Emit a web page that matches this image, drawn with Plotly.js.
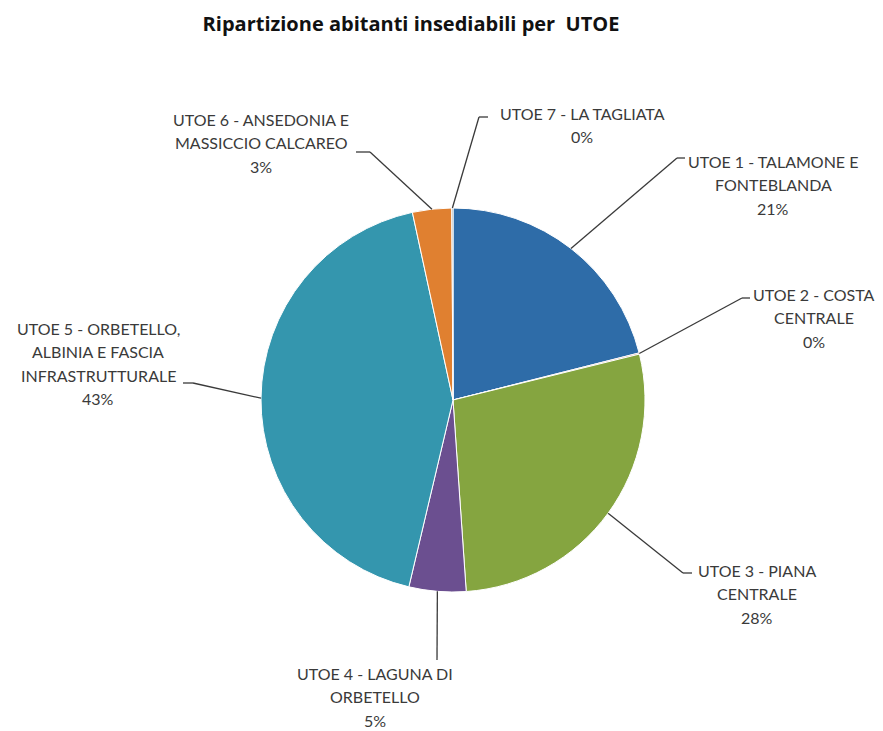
<!DOCTYPE html>
<html>
<head>
<meta charset="utf-8">
<script src="https://cdn.plot.ly/plotly-3.0.1.min.js"></script>
<style>html,body{margin:0;padding:0;background:#fff}#chart{width:883px;height:731px}</style>
</head>
<body>
<div id="chart"></div>
<script>
// ---- data ----
const categories = ["UTOE 1 - TALAMONE E FONTEBLANDA","UTOE 2 - COSTA CENTRALE","UTOE 3 - PIANA CENTRALE","UTOE 4 - LAGUNA DI ORBETELLO","UTOE 5 - ORBETELLO, ALBINIA E FASCIA INFRASTRUTTURALE","UTOE 6 - ANSEDONIA E MASSICCIO CALCAREO","UTOE 7 - LA TAGLIATA"];
const labelLines = [
  ["UTOE 1 - TALAMONE E","FONTEBLANDA"],
  ["UTOE 2 - COSTA","CENTRALE"],
  ["UTOE 3 - PIANA","CENTRALE"],
  ["UTOE 4 - LAGUNA DI","ORBETELLO"],
  ["UTOE 5 - ORBETELLO,","ALBINIA E FASCIA","INFRASTRUTTURALE"],
  ["UTOE 6 - ANSEDONIA E","MASSICCIO CALCAREO"],
  ["UTOE 7 - LA TAGLIATA"]
];
const values = [21.1, 0.1, 27.8, 4.8, 43.0, 3.3, 0.1];
const title = "Ripartizione abitanti insediabili per  UTOE";

// ---- styles / layout ----
const colors = ["#2E6CA8","#B8423E","#85A540","#6B4F90","#3496AE","#E08030","#8A8A8A"];
const W = 883, H = 731;
const cx = 453, cy = 400, r = 192;
// label block centre x, first line y (px)
const labelPos = [[773,161],[814,294],[757,570],[375,673],[98,328],[261,119],[582,113]];
// leader elbow and end points (px)
const elbows = [[677,158],[742,298],[683,573],[437,660],[193,383],[370,152],[479,117]];
const ends   = [[685,158],[750,298],[692,573],[437,660],[183,383],[356,152],[488,117]];
const lineGap = 23.6;
const textColor = "#3a3a3a";
const fontFam = "Lato, 'Open Sans', sans-serif";

const px = x => x / W;
const py = y => 1 - y / H;

const total = values.reduce((a,b)=>a+b,0);
const annotations = [];
const shapes = [];
let cum = 0;
values.forEach((v,i)=>{
  const f = (cum + v/2) / total;
  cum += v;
  const th = 2*Math.PI*f;
  const sx = cx + r*Math.sin(th), sy = cy - r*Math.cos(th);
  const lc = {color:"#3a3a3a", width:1.3};
  shapes.push({type:"line", xref:"paper", yref:"paper", x0:px(sx), y0:py(sy), x1:px(elbows[i][0]), y1:py(elbows[i][1]), line:lc});
  shapes.push({type:"line", xref:"paper", yref:"paper", x0:px(elbows[i][0]), y0:py(elbows[i][1]), x1:px(ends[i][0]), y1:py(ends[i][1]), line:lc});
  const lines = labelLines[i].concat([Math.round(v/total*100) + "%"]);
  lines.forEach((t,k)=>{
    annotations.push({xref:"paper", yref:"paper", x:px(labelPos[i][0]), y:py(labelPos[i][1] + k*lineGap),
      xanchor:"center", yanchor:"middle", showarrow:false, text:t, borderpad:0,
      font:{family:fontFam, size:16, color:textColor}});
  });
});

const trace = {
  type:"pie", labels:categories, values:values, sort:false, direction:"clockwise", rotation:0,
  marker:{colors:colors, line:{color:"#ffffff", width:1}},
  textinfo:"none", hoverinfo:"label+percent", showlegend:false,
  domain:{x:[px(cx-r), px(cx+r)], y:[py(cy+r), py(cy-r)]}
};

const layout = {
  width:W, height:H, margin:{l:0,r:0,t:0,b:0},
  paper_bgcolor:"#fff",
  title:{text:"<b>"+title+"</b>", x:411/W, xanchor:"center", y:1-24/H, yanchor:"middle", yref:"paper",
    font:{family:"'Open Sans', sans-serif", size:20, color:"#111111"}},
  annotations:annotations, shapes:shapes, showlegend:false
};
Plotly.newPlot("chart",[trace],layout,{displayModeBar:false});
</script>
</body>
</html>
